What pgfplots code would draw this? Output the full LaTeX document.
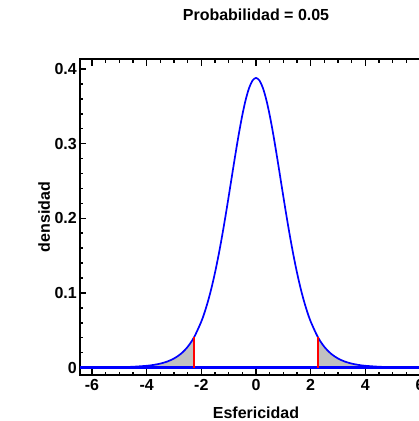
\documentclass[border=0pt]{standalone}
\usepackage{pgfplots}
\pgfplotsset{compat=1.18}
\usepackage{fontspec}
\setmainfont{Liberation Sans}
\definecolor{shade}{RGB}{192,192,192}
\begin{document}
\begin{tikzpicture}[x=1pt,y=1pt]
\begin{axis}[
  at={(0pt,0pt)}, anchor=south west,
  scale only axis, width=352pt, height=316pt,
  xmin=-6.44, xmax=6.44, ymin=-0.01, ymax=0.4134,
  xtick={-6,-4,-2,0,2,4,6},
  xticklabels={-6,-4,-2,0,2,4,6},
  ytick={0,0.1,0.2,0.3,0.4},
  yticklabels={0,0.1,0.2,0.3,0.4},
  minor x tick num=3, minor y tick num=4,
  tick align=inside, major tick length=6.5pt, minor tick length=3.5pt,
  axis line style={black, line width=1.6pt},
  every tick/.style={black, line width=1.5pt},
  xticklabel style={font=\bfseries\fontsize{16}{16}\selectfont, inner sep=0pt, anchor=north, yshift=-4pt},
  yticklabel style={font=\bfseries\fontsize{16}{16}\selectfont, inner sep=0pt, anchor=east, xshift=-3pt},
  title={Probabilidad = 0.05},
  title style={font=\bfseries\fontsize{16}{16}\selectfont, at={(axis description cs:0.5,1)}, anchor=center, yshift=38pt},
  xlabel={Esfericidad},
  xlabel style={font=\bfseries\fontsize{16}{16}\selectfont, at={(axis description cs:0.5,-0.1203)}, anchor=center},
  ylabel={densidad},
  ylabel style={font=\bfseries\fontsize{16}{16}\selectfont, at={(axis description cs:-0.102,0.5)}, anchor=center, rotate=0},
  clip=true,
]
% shaded tails
\addplot[fill=shade, draw=none] coordinates {
 (-6.44,0) (-6,0.000124) (-5.5,0.000246) (-5,0.000504) (-4.5,0.001070) (-4,0.002346)
 (-3.75,0.003512) (-3.5,0.005287) (-3.25,0.007997) (-3,0.012126) (-2.75,0.01837)
 (-2.5,0.02778) (-2.262,0.04087) (-2.262,0)} \closedcycle;
\addplot[fill=shade, draw=none] coordinates {
 (2.262,0) (2.262,0.04087) (2.5,0.02778) (2.75,0.01837) (3,0.012126) (3.25,0.007997)
 (3.5,0.005287) (3.75,0.003512) (4,0.002346) (4.5,0.001070) (5,0.000504)
 (5.5,0.000246) (6,0.000124) (6.44,0)} \closedcycle;
% baseline
\addplot[blue, line width=2.2pt] coordinates {(-6.44,0) (6.44,0)};
% density curve
\addplot[blue, line width=1.7pt, smooth] coordinates {
 (-6,0.000124) (-5.5,0.000246) (-5,0.000504) (-4.5,0.001070) (-4,0.002346)
 (-3.75,0.003512) (-3.5,0.005287) (-3.25,0.007997) (-3,0.012126) (-2.75,0.01837)
 (-2.5,0.02778) (-2.262,0.04087) (-2,0.06171) (-1.875,0.07462) (-1.75,0.08972)
 (-1.625,0.10721) (-1.5,0.12715) (-1.375,0.14956) (-1.25,0.17428) (-1.125,0.20097)
 (-1,0.22913) (-0.875,0.25799) (-0.75,0.28656) (-0.625,0.31376) (-0.5,0.33836)
 (-0.375,0.35909) (-0.25,0.37483) (-0.125,0.38468) (0,0.38803)
 (0.125,0.38468) (0.25,0.37483) (0.375,0.35909) (0.5,0.33836) (0.625,0.31376)
 (0.75,0.28656) (0.875,0.25799) (1,0.22913) (1.125,0.20097) (1.25,0.17428)
 (1.375,0.14956) (1.5,0.12715) (1.625,0.10721) (1.75,0.08972) (1.875,0.07462)
 (2,0.06171) (2.262,0.04087) (2.5,0.02778) (2.75,0.01837) (3,0.012126)
 (3.25,0.007997) (3.5,0.005287) (3.75,0.003512) (4,0.002346) (4.5,0.001070)
 (5,0.000504) (5.5,0.000246) (6,0.000124)};
% critical lines
\addplot[red, line width=1.7pt] coordinates {(-2.262,0) (-2.262,0.04087)};
\addplot[red, line width=1.7pt] coordinates {(2.262,0) (2.262,0.04087)};
\end{axis}
\pgfresetboundingbox
\path[use as bounding box] (-80pt,-46pt) rectangle (339pt,375pt);
\end{tikzpicture}
\end{document}
